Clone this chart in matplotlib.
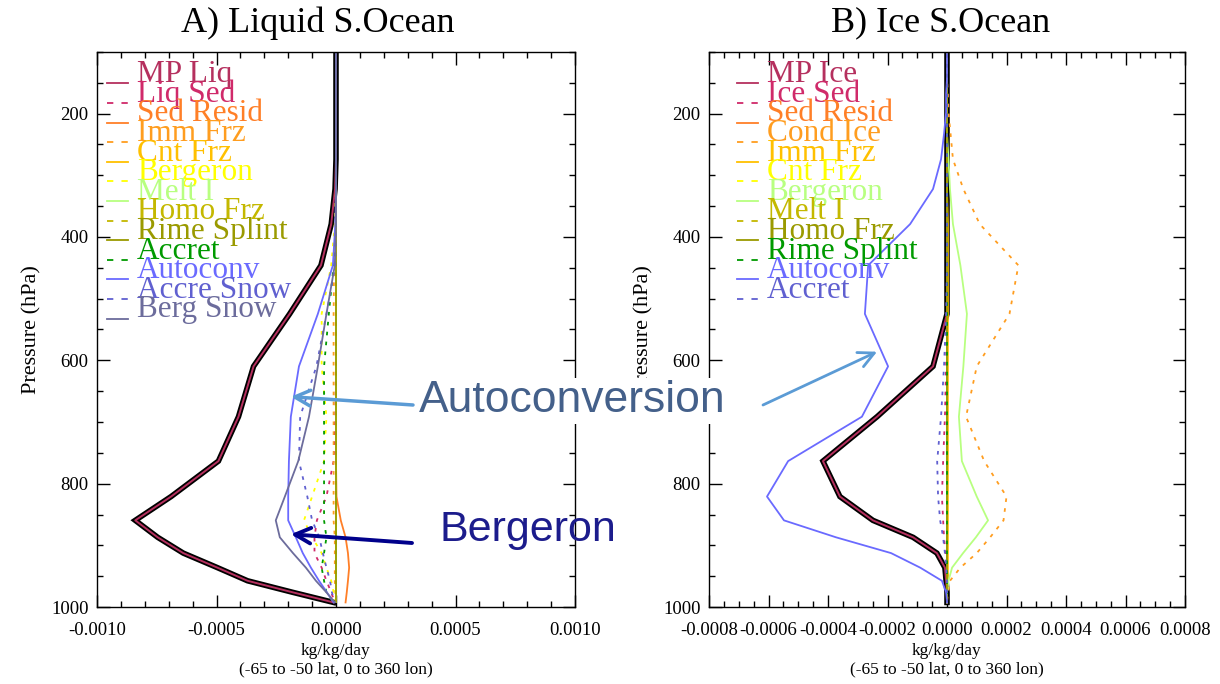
import matplotlib
matplotlib.use('Agg')
import matplotlib.pyplot as plt
from matplotlib.ticker import MultipleLocator, FormatStrFormatter

# ---------------- data (values in units of 1e-5 kg/kg/day) ----------------
SCALE = 1e-5
levels = [103.3, 121.5, 143.0, 168.2, 197.9, 232.8, 273.9, 322.2, 379.1, 446.0, 524.7,
          609.8, 691.4, 763.4, 820.9, 859.5, 887.0, 912.6, 936.2, 957.5, 976.3, 992.6]

liq_names = ["MP Liq", "Liq Sed", "Sed Resid", "Imm Frz", "Cnt Frz", "Bergeron", "Melt I",
             "Homo Frz", "Rime Splint", "Accret", "Autoconv", "Accre Snow", "Berg Snow"]
liq_mp         = [0, 0, 0, 0, 0, 0, 0, -0.4, -2.0, -6.3, -19.4, -34.5, -40.8, -49.2, -69.0, -84.0, -74.6, -63.9, -49.6, -37.0, -18.0, -1.0]
liq_sed        = [0, 0, 0, 0, 0, 0, 0, 0, 0, 0, 0, 0, -0.3, -1.0, -4.0, -8.0, -9.0, -9.0, -6.0, -4.0, -2.0, -0.5]
liq_sedresid   = [0, 0, 0, 0, 0, 0, 0, 0, 0, 0, 0, 0, 0, 0, 0.2, 2.0, 4.0, 5.0, 5.5, 5.0, 4.5, 4.0]
liq_immfrz     = [0, 0, 0, 0, 0, 0, 0, 0, -0.3, -0.8, -1.0, -1.0, -1.0, -1.0, -1.0, -1.0, -0.5, -0.5, -0.5, -0.5, -0.3, 0]
liq_cntfrz     = [0] * 22
liq_bergeron   = [0, 0, 0, 0, 0, 0, 0, 0, -0.5, -2.0, -6.0, -6.0, -4.0, -5.0, -10.0, -13.4, -10.0, -6.0, -4.0, -2.0, -1.0, 0]
liq_melti      = [0] * 22
liq_homofrz    = [0] * 22
liq_rimesplint = [0] * 22
liq_accret     = [0, 0, 0, 0, 0, 0, 0, 0, 0, -1.0, -3.0, -5.0, -5.0, -5.0, -5.0, -5.0, -4.0, -5.0, -6.0, -5.0, -4.0, -1.0]
liq_autoconv   = [0, 0, 0, 0, 0, 0, 0, 0, -0.3, -1.3, -7.6, -15.5, -18.9, -19.7, -20.0, -20.0, -16.8, -13.9, -10.5, -7.1, -3.8, -1.0]
liq_accresnow  = [0, 0, 0, 0, 0, 0, 0, 0, 0, -0.3, -4.0, -8.2, -15.0, -15.5, -12.0, -10.0, -7.0, -5.5, -4.0, -2.5, -1.7, -0.5]
liq_bergsnow   = [0, 0, 0, 0, 0, 0, 0, 0, 0, -0.5, -4.0, -7.6, -11.3, -15.8, -21.4, -25.2, -23.5, -18.0, -12.6, -8.4, -4.0, -0.5]

ice_names = ["MP Ice", "Ice Sed", "Sed Resid", "Cond Ice", "Imm Frz", "Cnt Frz", "Bergeron",
             "Melt I", "Homo Frz", "Rime Splint", "Autoconv", "Accret"]
ice_mp         = [0, 0, 0, 0, 0, 0, 0, 0, 0, 0, 0, -4.7, -23.5, -41.7, -36.0, -24.9, -11.4, -3.4, -0.7, -0.3, 0, 0]
ice_sed        = [0, 0, 0, 0, 0, 0, 0, 0, 0, 0, 0, -0.3, -0.7, -1.3, -1.7, -1.3, -1.0, -0.5, -0.2, 0, 0, 0]
ice_sedresid   = [0] * 22
ice_condice    = [0, 0, 0, 0.3, 0.5, 1.2, 2.0, 5.5, 11.0, 24.0, 21.0, 10.0, 6.4, 12.5, 20.0, 19.0, 14.5, 10.0, 4.5, 1.0, 0.3, 0]
ice_immfrz     = [0, 0, 0, 0, 0, 0, 0, 0, 0.3, 0.3, 0.3, 0.3, 0.3, 0.3, 0.3, 0.3, 0.3, 0.3, 0.3, 0.3, 0, 0]
ice_cntfrz     = [0] * 22
ice_bergeron   = [0, 0, 0, 0, 0, 0, 0.5, 1.0, 2.0, 4.5, 6.7, 5.5, 4.0, 5.0, 10.0, 13.8, 9.7, 5.4, 1.7, 0.5, 0, 0]
ice_melti      = [0] * 22
ice_homofrz    = [0] * 22
ice_rimesplint = [0] * 22
ice_autoconv   = [0, 0, 0, -0.3, -0.3, -1.0, -2.0, -4.7, -12.4, -26.5, -27.6, -19.8, -28.6, -53.4, -60.5, -54.8, -37.3, -18.8, -9.0, -1.7, -0.3, 0]
ice_accret     = [0, 0, 0, 0, 0, 0, 0, 0, 0, 0, -0.3, -1.0, -2.0, -3.3, -3.0, -2.3, -1.3, -0.7, -0.3, 0, 0, 0]

liq_series = [liq_mp, liq_sed, liq_sedresid, liq_immfrz, liq_cntfrz, liq_bergeron, liq_melti,
              liq_homofrz, liq_rimesplint, liq_accret, liq_autoconv, liq_accresnow, liq_bergsnow]
ice_series = [ice_mp, ice_sed, ice_sedresid, ice_condice, ice_immfrz, ice_cntfrz, ice_bergeron,
              ice_melti, ice_homofrz, ice_rimesplint, ice_autoconv, ice_accret]

liq_colors = ['#b5305e', '#d02a6a', '#ff7f27', '#ff9d1f', '#ffc000', '#ffff00', '#b8ff80',
              '#c4b800', '#9a9a00', '#009a00', '#6a6aff', '#6060d0', '#6c6c9c']
ice_colors = ['#b5305e', '#d02a6a', '#ff7f27', '#ff9d1f', '#ffc000', '#ffff00', '#b8ff80',
              '#c4b800', '#9a9a00', '#009a00', '#6a6aff', '#6060d0']

W, H = 1220, 684
SERIF = ['Liberation Serif', 'DejaVu Serif']
DASH = (0, (2.0, 3.5))
LEG_DASH = (0, (3.5, 4.5))

fig = plt.figure(figsize=(W / 100, H / 100), dpi=100)
fig.patch.set_facecolor('white')


def px_axes(x0, y0, x1, y1):
    return fig.add_axes([x0 / W, 1 - y1 / H, (x1 - x0) / W, (y1 - y0) / H])


def draw_panel(ax, names, series, colors, xlim, major, minor, leg_x0, leg_x1, txt_x, title, title_x):
    ax.set_xlim(*xlim)
    ax.set_ylim(1000, 100)
    # MP total: thick black underlay + coloured core
    mp = [v * SCALE for v in series[0]]
    ax.plot(mp, levels, color='black', lw=4.0, solid_joinstyle='miter', zorder=2)
    ax.plot(mp, levels, color=colors[0], lw=1.4, zorder=2.1)
    for i in range(1, len(series)):
        vals = [v * SCALE for v in series[i]]
        ls = '-' if i % 2 == 0 else DASH
        ax.plot(vals, levels, color=colors[i], lw=1.3, linestyle=ls, zorder=2.2 + i * 0.01)
    # legend (IDL style)
    step = 19.6 / 555
    for i, name in enumerate(names):
        yf = 1 - (31.3 / 555 + step * i)
        ls = '-' if i % 2 == 0 else LEG_DASH
        ax.plot([leg_x0, leg_x1], [yf, yf], transform=ax.transAxes, color=colors[i],
                lw=1.3, linestyle=ls, zorder=5, clip_on=False)
        ax.text(txt_x, yf + 0.002, name, transform=ax.transAxes, color=colors[i], fontsize=22.5,
                family=SERIF, va='baseline', ha='left', zorder=5)
    ax.xaxis.set_major_locator(MultipleLocator(major))
    ax.xaxis.set_minor_locator(MultipleLocator(minor))
    ax.xaxis.set_major_formatter(FormatStrFormatter('%.4f'))
    ax.yaxis.set_major_locator(MultipleLocator(200))
    ax.yaxis.set_minor_locator(MultipleLocator(50))
    ax.tick_params(which='both', direction='in', top=True, right=True, width=1.0, colors='black')
    ax.tick_params(which='major', length=9)
    ax.tick_params(which='minor', length=4.5)
    ax.tick_params(axis='x', pad=11)
    ax.tick_params(axis='y', pad=6)
    for lab in ax.get_xticklabels() + ax.get_yticklabels():
        lab.set_family(SERIF)
        lab.set_fontsize(13.5)
    for sp in ax.spines.values():
        sp.set_linewidth(1.0)
    ax.set_ylabel('Pressure (hPa)', family=SERIF, fontsize=16, labelpad=7)
    ax.set_xlabel('kg/kg/day\n(-65 to -50 lat, 0 to 360 lon)', family=SERIF, fontsize=12.5,
                  labelpad=3, linespacing=1.15)
    fig.text(title_x / W, 1 - 23 / H, title, family=SERIF, fontsize=26, ha='center', va='center')


axL = px_axes(97, 52, 575, 607)
draw_panel(axL, liq_names, liq_series, liq_colors, (-0.001, 0.001), 0.0005, 0.0001,
           0.021, 0.065, 0.084, 'A) Liquid S.Ocean', 318)

axR = px_axes(709, 52, 1185, 607)
draw_panel(axR, ice_names, ice_series, ice_colors, (-0.0008, 0.0008), 0.0002, 0.00005,
           0.059, 0.103, 0.122, 'B) Ice S.Ocean', 941)

# ---------------- annotations ----------------
fig.text(572 / W, 1 - 401 / H, 'Autoconversion', family=['Liberation Sans', 'DejaVu Sans'],
         fontsize=32, color='#44608a', ha='center', va='center', zorder=10,
         bbox=dict(facecolor='white', edgecolor='none', pad=2))
fig.text(528 / W, 1 - 530 / H, 'Bergeron', family=['Liberation Sans', 'DejaVu Sans'],
         fontsize=31, color='#1c1c8c', ha='center', va='center', zorder=10)

axL.annotate('', xy=(-0.000189, 659), xycoords='data', xytext=(413, H - 405),
             textcoords='figure pixels', annotation_clip=False, zorder=11,
             arrowprops=dict(arrowstyle='->', color='#5b9bd5', lw=2.5, mutation_scale=28,
                             shrinkA=0, shrinkB=0))
axR.annotate('', xy=(-0.000235, 586), xycoords='data', xytext=(763, H - 405),
             textcoords='figure pixels', annotation_clip=False, zorder=11,
             arrowprops=dict(arrowstyle='->', color='#5b9bd5', lw=2.0, mutation_scale=28,
                             shrinkA=0, shrinkB=0))
axL.annotate('', xy=(-0.000189, 882), xycoords='data', xytext=(412, H - 543),
             textcoords='figure pixels', annotation_clip=False, zorder=11,
             arrowprops=dict(arrowstyle='->', color='#00008b', lw=2.8, mutation_scale=28,
                             shrinkA=0, shrinkB=0))

fig.savefig('out.png', dpi=100, facecolor='white')
